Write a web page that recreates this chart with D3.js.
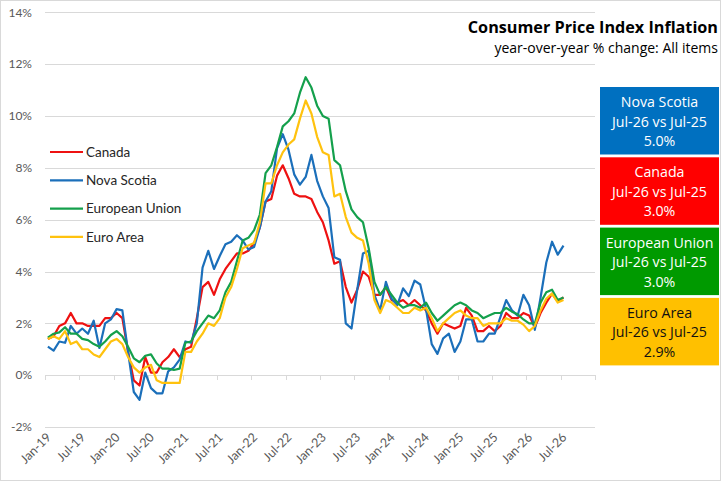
<!DOCTYPE html>
<html>
<head>
<meta charset="utf-8">
<script src="https://cdn.jsdelivr.net/npm/d3@7"></script>
<style>
  body { margin: 0; background: #fff; }
  svg { display: block; }
</style>
</head>
<body>
<svg id="chart" width="721" height="481"></svg>
<script>
// monthly, Jan-19 .. Jul-26
const startMonth = new Date(2019, 0, 1);
const tickLabels = ["Jan-19", "Jul-19", "Jan-20", "Jul-20", "Jan-21", "Jul-21", "Jan-22", "Jul-22",
  "Jan-23", "Jul-23", "Jan-24", "Jul-24", "Jan-25", "Jul-25", "Jan-26", "Jul-26"];
const yTicks = [-2, 0, 2, 4, 6, 8, 10, 12, 14];

const seriesNames = ["Canada", "Nova Scotia", "European Union", "Euro Area"];
const seriesColors = ["#EE1111", "#1B6FBA", "#14A04C", "#FFC20E"];

const canada = [
  1.4, 1.5, 1.9, 2.0, 2.4, 2.0, 2.0, 1.9, 1.9, 1.9, 2.2, 2.2,
  2.4, 2.2, 0.9, -0.2, -0.4, 0.7, 0.1, 0.1, 0.5, 0.7, 1.0, 0.7,
  1.0, 1.1, 2.2, 3.4, 3.6, 3.1, 3.7, 4.1, 4.4, 4.7, 4.7, 4.8,
  5.1, 5.7, 6.7, 6.8, 7.7, 8.1, 7.6, 7.0, 6.9, 6.9, 6.8, 6.3,
  5.9, 5.2, 4.3, 4.4, 3.4, 2.8, 3.3, 4.0, 3.8, 3.1, 3.1, 3.4,
  2.9, 2.8, 2.9, 2.7, 2.9, 2.7, 2.5, 2.0, 1.6, 2.0, 1.9, 1.8,
  1.9, 2.6, 2.3, 1.7, 1.7, 1.9, 1.7, 1.9, 2.4, 2.2, 2.2, 2.4,
  2.3, 1.85, 2.4, 2.8, 3.15, 2.85, 3.0
];
const novaScotia = [
  1.1, 0.95, 1.3, 1.25, 1.9, 1.6, 1.8, 1.6, 2.1, 1.05, 2.0, 2.15,
  2.55, 2.5, 0.9, -0.65, -0.95, 0.1, -0.5, -0.7, -0.7, 0.15, 0.3, 0.6,
  1.3, 1.25, 2.0, 4.15, 4.8, 4.1, 4.6, 5.05, 5.15, 5.4, 5.2, 4.85,
  4.95, 5.7, 6.7, 7.1, 8.75, 9.3, 8.7, 7.75, 7.35, 7.65, 8.5, 7.5,
  6.9, 6.45, 4.55, 4.45, 2.0, 1.8, 3.3, 4.7, 4.8, 3.1, 2.5, 3.6,
  2.95, 2.7, 3.35, 3.05, 3.65, 3.5, 2.55, 1.2, 0.82, 1.42, 1.6, 0.9,
  1.3, 2.15, 2.15, 1.3, 1.3, 1.6, 1.6, 2.25, 2.9, 2.5, 2.3, 3.1,
  2.7, 1.75, 3.0, 4.35, 5.15, 4.65, 5.0
];
const europeanUnion = [
  1.45, 1.6, 1.65, 1.85, 1.6, 1.6, 1.4, 1.35, 1.2, 1.1, 1.3, 1.55,
  1.7, 1.5, 1.1, 0.65, 0.5, 0.75, 0.8, 0.45, 0.25, 0.25, 0.2, 0.25,
  1.25, 1.3, 1.7, 2.0, 2.3, 2.2, 2.5, 3.2, 3.6, 4.4, 5.2, 5.3,
  5.6, 6.2, 7.8, 8.1, 8.8, 9.6, 9.8, 10.1, 10.9, 11.5, 11.1, 10.4,
  10.0, 9.9, 8.3, 8.1, 7.1, 6.4, 6.1, 5.9, 4.9, 3.6, 3.1, 3.4,
  3.1, 2.8, 2.6, 2.7, 2.7, 2.6, 2.8, 2.4, 2.1, 2.3, 2.5, 2.7,
  2.8, 2.7, 2.5, 2.4, 2.2, 2.3, 2.4, 2.4, 2.6, 2.45, 2.35, 2.15,
  2.0, 2.0, 2.8, 3.2, 3.3, 2.9, 3.0
];
const euroArea = [
  1.4, 1.5, 1.4, 1.7, 1.2, 1.3, 1.0, 1.0, 0.8, 0.7, 1.0, 1.3,
  1.4, 1.2, 0.7, 0.3, 0.1, 0.3, 0.4, -0.2, -0.3, -0.3, -0.3, -0.3,
  0.9, 0.9, 1.3, 1.6, 2.0, 1.9, 2.2, 3.0, 3.4, 4.1, 4.9, 5.0,
  5.1, 5.9, 7.4, 7.4, 8.1, 8.6, 8.9, 9.1, 9.9, 10.6, 10.1, 9.2,
  8.6, 8.5, 6.9, 7.0, 6.1, 5.5, 5.3, 5.2, 4.3, 2.9, 2.4, 2.9,
  2.8, 2.6, 2.4, 2.4, 2.6, 2.5, 2.6, 2.2, 1.7, 2.0, 2.2, 2.4,
  2.5, 2.3, 2.2, 2.2, 1.9, 2.0, 2.0, 2.0, 2.2, 2.1, 2.1, 1.95,
  1.7, 1.9, 2.5, 2.95, 3.15, 2.8, 2.9
];

// side boxes
const boxNames = ["Nova Scotia", "Canada", "European Union", "Euro Area"];
const boxPeriod = "Jul-26 vs Jul-25";
const boxValues = ["5.0%", "3.0%", "3.0%", "2.9%"];
const boxFills = ["#0070C0", "#FF0000", "#009A00", "#FFC000"];
const boxText = ["#fff", "#fff", "#fff", "#111"];

const series = [canada, novaScotia, europeanUnion, euroArea];

const svg = d3.select("#chart");
const W = 721, H = 481;
const axisFont = "Lato, 'Liberation Sans', sans-serif";
const boxFont = "'Open Sans', 'DejaVu Sans', sans-serif";

svg.append("rect")
  .attr("x", 0.5).attr("y", 0.5)
  .attr("width", W - 1).attr("height", H - 1)
  .attr("fill", "#fff").attr("stroke", "#d9d9d9");

// 96 monthly slots, Jan-19 .. Dec-26
const x = d3.scaleLinear().domain([-0.5, 95.5]).range([45, 595]);
const y = d3.scaleLinear().domain([-2, 14]).range([427, 12.4]);

const grid = svg.append("g").attr("class", "grid");
grid.selectAll("line")
  .data(yTicks)
  .enter().append("line")
  .attr("x1", x.range()[0]).attr("x2", x.range()[1])
  .attr("y1", d => Math.round(y(d)) + 0.5).attr("y2", d => Math.round(y(d)) + 0.5)
  .attr("stroke", "#d9d9d9").attr("stroke-width", 1);

grid.selectAll("text")
  .data(yTicks)
  .enter().append("text")
  .attr("x", 32)
  .attr("y", d => y(d))
  .attr("dy", "0.35em")
  .attr("text-anchor", "end")
  .attr("font-family", axisFont)
  .attr("font-size", 12)
  .attr("fill", "#595959")
  .text(d => d + "%");

// category axis sits on 0%, ticks every 6 months
const tickIdx = d3.range(0, 97, 6);
svg.append("g").selectAll("line")
  .data(tickIdx)
  .enter().append("line")
  .attr("x1", d => Math.round(x(d - 0.5)) + 0.5).attr("x2", d => Math.round(x(d - 0.5)) + 0.5)
  .attr("y1", Math.round(y(0))).attr("y2", Math.round(y(0)) + 5)
  .attr("stroke", "#d9d9d9");

svg.append("g").selectAll("text")
  .data(tickLabels)
  .enter().append("text")
  .attr("transform", (d, i) => `translate(${x(i * 6) + 4},${438}) rotate(-45)`)
  .attr("text-anchor", "end")
  .attr("font-family", axisFont)
  .attr("font-size", 12.5)
  .attr("fill", "#595959")
  .text(d => d);

const line = d3.line()
  .x((d, i) => x(i))
  .y(d => y(d));

svg.append("g").selectAll("path")
  .data(series)
  .enter().append("path")
  .attr("d", line)
  .attr("fill", "none")
  .attr("stroke", (d, i) => seriesColors[i])
  .attr("stroke-width", 2.2)
  .attr("stroke-linejoin", "round");

// legend
const legend = svg.append("g").selectAll("g")
  .data(seriesNames)
  .enter().append("g")
  .attr("transform", (d, i) => `translate(50,${152 + i * 28.3})`);
legend.append("line")
  .attr("x1", 0).attr("x2", 33)
  .attr("stroke", (d, i) => seriesColors[i])
  .attr("stroke-width", 2.2);
legend.append("text")
  .attr("x", 36).attr("dy", "0.35em")
  .attr("font-family", axisFont)
  .attr("font-size", 13.5)
  .attr("fill", "#262626")
  .text(d => d);

// title
svg.append("text")
  .attr("x", 718).attr("y", 33)
  .attr("text-anchor", "end")
  .attr("font-family", boxFont)
  .attr("font-weight", "bold")
  .attr("font-size", 16.2)
  .attr("fill", "#000")
  .text("Consumer Price Index Inflation");
svg.append("text")
  .attr("x", 718).attr("y", 53)
  .attr("text-anchor", "end")
  .attr("font-family", boxFont)
  .attr("font-size", 14)
  .attr("fill", "#000")
  .text("year-over-year % change: All items");

// summary boxes
const boxes = svg.append("g").selectAll("g")
  .data(boxNames)
  .enter().append("g")
  .attr("transform", (d, i) => `translate(600,${87 + i * 70.3})`);
boxes.append("rect")
  .attr("width", 119).attr("height", 67.5)
  .attr("fill", (d, i) => boxFills[i]);
boxes.each(function (d, i) {
  const g = d3.select(this);
  [d, boxPeriod, boxValues[i]].forEach((t, k) => {
    g.append("text")
      .attr("x", 59.5).attr("y", 20 + k * 19.5)
      .attr("text-anchor", "middle")
      .attr("font-family", boxFont)
      .attr("font-size", 14.2)
      .attr("fill", boxText[i])
      .text(t);
  });
});
</script>
</body>
</html>
